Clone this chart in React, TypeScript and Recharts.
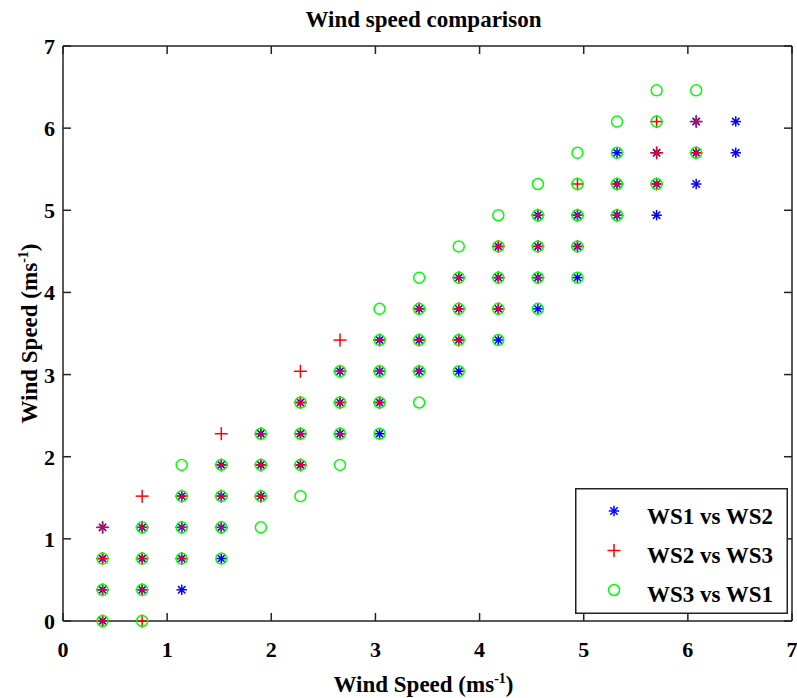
import { FC } from "react";
import {
  ScatterChart,
  Scatter,
  XAxis,
  YAxis,
  Legend,
  Label,
} from "recharts";

// axis ticks (wind speed, m/s)
export const axisTicks = [0, 1, 2, 3, 4, 5, 6, 7];

// WS1 vs WS2 (blue asterisks)
export const ws1VsWs2: [number, number][] = [
  [0.38, 0], [0.38, 0.38], [0.38, 0.76], [0.38, 1.14],
  [0.76, 0.38], [0.76, 0.76], [0.76, 1.14],
  [1.14, 0.38], [1.14, 0.76], [1.14, 1.14], [1.14, 1.52],
  [1.52, 0.76], [1.52, 1.14], [1.52, 1.52], [1.52, 1.9],
  [1.9, 1.52], [1.9, 1.9], [1.9, 2.28],
  [2.28, 1.9], [2.28, 2.28], [2.28, 2.66],
  [2.66, 2.28], [2.66, 2.66], [2.66, 3.04],
  [3.04, 2.28], [3.04, 2.66], [3.04, 3.04], [3.04, 3.42],
  [3.42, 3.04], [3.42, 3.42], [3.42, 3.8],
  [3.8, 3.04], [3.8, 3.42], [3.8, 3.8], [3.8, 4.18],
  [4.18, 3.42], [4.18, 3.8], [4.18, 4.18], [4.18, 4.56],
  [4.56, 3.8], [4.56, 4.18], [4.56, 4.56], [4.56, 4.94],
  [4.94, 4.18], [4.94, 4.56], [4.94, 4.94],
  [5.32, 4.94], [5.32, 5.32], [5.32, 5.7],
  [5.7, 4.94], [5.7, 5.32], [5.7, 5.7],
  [6.08, 5.32], [6.08, 5.7], [6.08, 6.08],
  [6.46, 5.7], [6.46, 6.08],
];

// WS2 vs WS3 (red plus)
export const ws2VsWs3: [number, number][] = [
  [0.38, 0], [0.38, 0.38], [0.38, 0.76], [0.38, 1.14],
  [0.76, 0], [0.76, 0.38], [0.76, 0.76], [0.76, 1.14], [0.76, 1.52],
  [1.14, 0.76], [1.14, 1.14], [1.14, 1.52],
  [1.52, 1.14], [1.52, 1.52], [1.52, 1.9], [1.52, 2.28],
  [1.9, 1.52], [1.9, 1.9], [1.9, 2.28],
  [2.28, 1.9], [2.28, 2.28], [2.28, 2.66], [2.28, 3.04],
  [2.66, 2.28], [2.66, 2.66], [2.66, 3.04], [2.66, 3.42],
  [3.04, 2.66], [3.04, 3.04], [3.04, 3.42],
  [3.42, 3.04], [3.42, 3.42], [3.42, 3.8],
  [3.8, 3.42], [3.8, 3.8], [3.8, 4.18],
  [4.18, 3.8], [4.18, 4.18], [4.18, 4.56],
  [4.56, 4.18], [4.56, 4.56], [4.56, 4.94],
  [4.94, 4.56], [4.94, 4.94], [4.94, 5.32],
  [5.32, 4.94], [5.32, 5.32],
  [5.7, 5.32], [5.7, 5.7], [5.7, 6.08],
  [6.08, 5.7], [6.08, 6.08],
];

// WS3 vs WS1 (green circles)
export const ws3VsWs1: [number, number][] = [
  [0.38, 0], [0.38, 0.38], [0.38, 0.76],
  [0.76, 0], [0.76, 0.38], [0.76, 0.76], [0.76, 1.14],
  [1.14, 0.76], [1.14, 1.14], [1.14, 1.52], [1.14, 1.9],
  [1.52, 0.76], [1.52, 1.14], [1.52, 1.52], [1.52, 1.9],
  [1.9, 1.14], [1.9, 1.52], [1.9, 1.9], [1.9, 2.28],
  [2.28, 1.52], [2.28, 1.9], [2.28, 2.28], [2.28, 2.66],
  [2.66, 1.9], [2.66, 2.28], [2.66, 2.66], [2.66, 3.04],
  [3.04, 2.28], [3.04, 2.66], [3.04, 3.04], [3.04, 3.42], [3.04, 3.8],
  [3.42, 2.66], [3.42, 3.04], [3.42, 3.42], [3.42, 3.8], [3.42, 4.18],
  [3.8, 3.04], [3.8, 3.42], [3.8, 3.8], [3.8, 4.18], [3.8, 4.56],
  [4.18, 3.42], [4.18, 3.8], [4.18, 4.18], [4.18, 4.56], [4.18, 4.94],
  [4.56, 3.8], [4.56, 4.18], [4.56, 4.56], [4.56, 4.94], [4.56, 5.32],
  [4.94, 4.18], [4.94, 4.56], [4.94, 4.94], [4.94, 5.32], [4.94, 5.7],
  [5.32, 4.94], [5.32, 5.32], [5.32, 5.7], [5.32, 6.08],
  [5.7, 5.32], [5.7, 6.08], [5.7, 6.46],
  [6.08, 5.7], [6.08, 6.46],
];

const toPoints = (arr: [number, number][]) => arr.map(([x, y]) => ({ x, y }));

const FONT = "Liberation Serif, DejaVu Serif, serif";
const FRAME = "#222";

const txt = (size: number) => ({
  fontFamily: FONT,
  fontWeight: 700,
  fontSize: size,
  fill: "#000",
});

const Asterisk = ({ cx, cy, color = "#0000ff" }: any) => {
  const r = 5.2;
  const d = r * 0.707;
  return (
    <g stroke={color} strokeWidth={1.5}>
      <line x1={cx - r} y1={cy} x2={cx + r} y2={cy} />
      <line x1={cx} y1={cy - r} x2={cx} y2={cy + r} />
      <line x1={cx - d} y1={cy - d} x2={cx + d} y2={cy + d} />
      <line x1={cx - d} y1={cy + d} x2={cx + d} y2={cy - d} />
    </g>
  );
};

const Plus = ({ cx, cy, color = "#ff0000" }: any) => {
  const r = 6.5;
  return (
    <g stroke={color} strokeWidth={1.5}>
      <line x1={cx - r} y1={cy} x2={cx + r} y2={cy} />
      <line x1={cx} y1={cy - r} x2={cx} y2={cy + r} />
    </g>
  );
};

const Ring = ({ cx, cy, color = "#00ff00" }: any) => (
  <circle cx={cx} cy={cy} r={5.5} fill="none" stroke={color} strokeWidth={1.5} />
);

const XTick = ({ x, y, payload }: any) => (
  <text x={x} y={y + 36} textAnchor="middle" style={txt(22)}>
    {payload.value}
  </text>
);

const YTick = ({ x, y, payload }: any) => (
  <text x={x - 8} y={y + 8} textAnchor="end" style={txt(22)}>
    {payload.value}
  </text>
);

// tick marks only, no text (top and right edges of the box)
const NoText = () => <g />;

const unitLabel = (
  <>
    <tspan>Wind Speed (ms</tspan>
    <tspan dy={-9} style={{ fontSize: 14 }}>-1</tspan>
    <tspan dy={9}>)</tspan>
  </>
);

const XLabel = ({ viewBox }: any) => (
  <text
    x={viewBox.x + viewBox.width / 2 - 4}
    y={viewBox.y + 71}
    textAnchor="middle"
    style={txt(23)}
  >
    {unitLabel}
  </text>
);

const YLabel = ({ viewBox }: any) => {
  const cx = 37;
  const cy = viewBox.y + viewBox.height / 2;
  return (
    <text
      x={cx}
      y={cy}
      transform={`rotate(-90, ${cx}, ${cy})`}
      textAnchor="middle"
      style={txt(23)}
    >
      {unitLabel}
    </text>
  );
};

const Title = ({ viewBox }: any) => (
  <text
    x={viewBox.x + viewBox.width / 2 - 4}
    y={27}
    textAnchor="middle"
    style={txt(23)}
  >
    Wind speed comparison
  </text>
);

const legendItems = [
  { name: "WS1 vs WS2", Marker: Asterisk },
  { name: "WS2 vs WS3", Marker: Plus },
  { name: "WS3 vs WS1", Marker: Ring },
];

const LegendBox = () => (
  <svg width={213} height={126} style={{ display: "block" }}>
    <rect x={0.75} y={0.75} width={211.5} height={124.5} fill="#fff" stroke={FRAME} strokeWidth={1.5} />
    {legendItems.map((it, k) => (
      <g key={it.name}>
        <it.Marker cx={39} cy={23 + k * 39.5} />
        <text x={72} y={36 + k * 39} style={txt(23)}>
          {it.name}
        </text>
      </g>
    ))}
  </svg>
);

const axisStroke = { stroke: FRAME, strokeWidth: 1.5 };

const App: FC = () => {
  return (
    <div style={{ position: "absolute", left: 0, top: 0, background: "#fff" }}>
      <ScatterChart width={797} height={698} margin={{ top: 45, right: 4, bottom: 0, left: 0 }}>
        <XAxis
          type="number"
          dataKey="x"
          domain={[0, 7]}
          ticks={axisTicks}
          interval={0}
          height={77}
          tickSize={-8}
          tickMargin={8}
          axisLine={axisStroke}
          tickLine={axisStroke}
          tick={<XTick />}
        >
          <Label content={<XLabel />} />
        </XAxis>
        <XAxis
          xAxisId="top"
          orientation="top"
          type="number"
          dataKey="x"
          domain={[0, 7]}
          ticks={axisTicks}
          interval={0}
          height={1}
          tickSize={-8}
          axisLine={axisStroke}
          tickLine={axisStroke}
          tick={<NoText />}
        >
          <Label content={<Title />} />
        </XAxis>
        <YAxis
          type="number"
          dataKey="y"
          domain={[0, 7]}
          ticks={axisTicks}
          interval={0}
          width={63}
          tickSize={-8}
          tickMargin={8}
          axisLine={axisStroke}
          tickLine={axisStroke}
          tick={<YTick />}
        >
          <Label content={<YLabel />} />
        </YAxis>
        <YAxis
          yAxisId="right"
          orientation="right"
          type="number"
          dataKey="y"
          domain={[0, 7]}
          ticks={axisTicks}
          interval={0}
          width={1}
          tickSize={-8}
          axisLine={axisStroke}
          tickLine={axisStroke}
          tick={<NoText />}
        />
        <Legend
          layout="vertical"
          align="center"
          verticalAlign="middle"
          wrapperStyle={{ left: 575, top: 488, width: 213, height: 126 }}
          content={<LegendBox />}
        />
        {/* invisible series so the top/right frame axes get drawn */}
        <Scatter
          xAxisId="top"
          yAxisId="right"
          data={toPoints(ws1VsWs2)}
          shape={() => <g />}
          legendType="none"
          isAnimationActive={false}
        />
        <Scatter
          name="WS1 vs WS2"
          data={toPoints(ws1VsWs2)}
          shape={(p: any) => <Asterisk cx={p.cx} cy={p.cy} />}
          isAnimationActive={false}
        />
        <Scatter
          name="WS2 vs WS3"
          data={toPoints(ws2VsWs3)}
          shape={(p: any) => <Plus cx={p.cx} cy={p.cy} />}
          isAnimationActive={false}
        />
        <Scatter
          name="WS3 vs WS1"
          data={toPoints(ws3VsWs1)}
          shape={(p: any) => <Ring cx={p.cx} cy={p.cy} />}
          isAnimationActive={false}
        />
      </ScatterChart>
    </div>
  );
};

export default App;
